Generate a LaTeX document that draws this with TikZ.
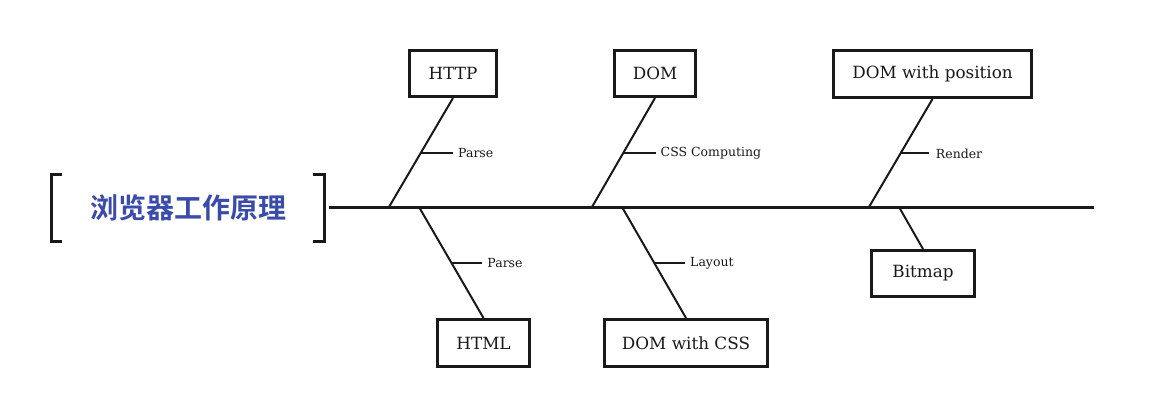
\documentclass[tikz,border=0pt]{standalone}
\usepackage{fontspec}
\usetikzlibrary{calc}
\setmainfont{DejaVu Serif}
\newfontfamily\cjk{Noto Sans CJK SC}[BoldFont={Noto Sans CJK SC Bold}]
\definecolor{titleblue}{RGB}{58,75,170}
\definecolor{ink}{RGB}{25,25,25}
\begin{document}
\begin{tikzpicture}[x=1pt,y=-1pt,
  causebox/.style={draw=ink,line width=3pt,inner sep=0pt,font=\fontsize{16.8}{18}\selectfont,text=ink},
  bone/.style={draw=ink,line width=2pt},
  spine/.style={draw=ink,line width=3pt},
  tick/.style={draw=ink,line width=2pt},
  bonelabel/.style={anchor=west,inner sep=0pt,font=\fontsize{12.5}{14}\selectfont,text=ink},
  bracket/.style={draw=ink,line width=3pt}
]
\useasboundingbox (0,0) rectangle (1150,413);
% title
\node[font=\cjk\bfseries\fontsize{28}{30}\selectfont,text=titleblue] (title) at (188,208) {浏览器工作原理};
\coordinate (lbt) at (62,174);
\coordinate (lbb) at (62,241);
\coordinate (rbt) at (313,174);
\coordinate (rbb) at (313,241);
\draw[bracket] (lbt) -- (51,174) -- (51,241) -- (lbb);
\draw[bracket] (rbt) -- (324,174) -- (324,241) -- (rbb);
% spine
\coordinate (sstart) at (329,207);
\coordinate (send) at (1094,207);
\draw[spine] (sstart) -- (send);
% boxes
\node[causebox,minimum width=87pt,minimum height=46pt] (http) at (453,73.5) {HTTP};
\node[causebox,minimum width=81pt,minimum height=46pt] (dom) at (655,73.5) {DOM};
\node[causebox,minimum width=198pt,minimum height=47pt] (dompos) at (932.5,74) {DOM with position};
\node[causebox,minimum width=103pt,minimum height=46pt] (bitmap) at (923,273.5) {Bitmap};
\node[causebox,minimum width=92pt,minimum height=47pt] (html) at (483.5,343) {HTML};
\node[causebox,minimum width=163pt,minimum height=47pt] (domcss) at (686,343) {DOM with CSS};
% spine points
\coordinate (s1) at (389,207);
\coordinate (s2) at (592,207);
\coordinate (s3) at (869,207);
\coordinate (s4) at (419,207);
\coordinate (s5) at (622,207);
\coordinate (s6) at (899,207);
% bones
\draw[bone] (s1) -- (http.south);
\draw[bone] (s2) -- (dom.south);
\draw[bone] (s3) -- (dompos.south);
\draw[bone] (s4) -- (html.north);
\draw[bone] (s5) -- (domcss.north);
\draw[bone] (s6) -- (bitmap.north);
% ticks and labels
\coordinate (m1) at ($(s1)!0.5!(http.south)$);
\coordinate (m2) at ($(s2)!0.5!(dom.south)$);
\coordinate (m3) at ($(s3)!0.5!(dompos.south)$);
\coordinate (m4) at ($(s4)!0.5!(html.north)$);
\coordinate (m5) at ($(s5)!0.5!(domcss.north)$);
\draw[tick] (m1) -- ++(32,0) coordinate (t1);
\draw[tick] (m2) -- ++(32,0) coordinate (t2);
\draw[tick] (m3) -- ++(28,0) coordinate (t3);
\draw[tick] (m4) -- ++(31,0) coordinate (t4);
\draw[tick] (m5) -- ++(31,0) coordinate (t5);
\node[bonelabel] (l1) at ([xshift=5pt,yshift=-0.5pt]t1) {Parse};
\node[bonelabel] (l2) at ([xshift=5pt,yshift=-0.5pt]t2) {CSS Computing};
\node[bonelabel] (l3) at ([xshift=7pt,yshift=-0.5pt]t3) {Render};
\node[bonelabel] (l4) at ([xshift=5pt,yshift=-0.5pt]t4) {Parse};
\node[bonelabel] (l5) at ([xshift=5pt,yshift=-0.5pt]t5) {Layout};
\end{tikzpicture}
\end{document}
